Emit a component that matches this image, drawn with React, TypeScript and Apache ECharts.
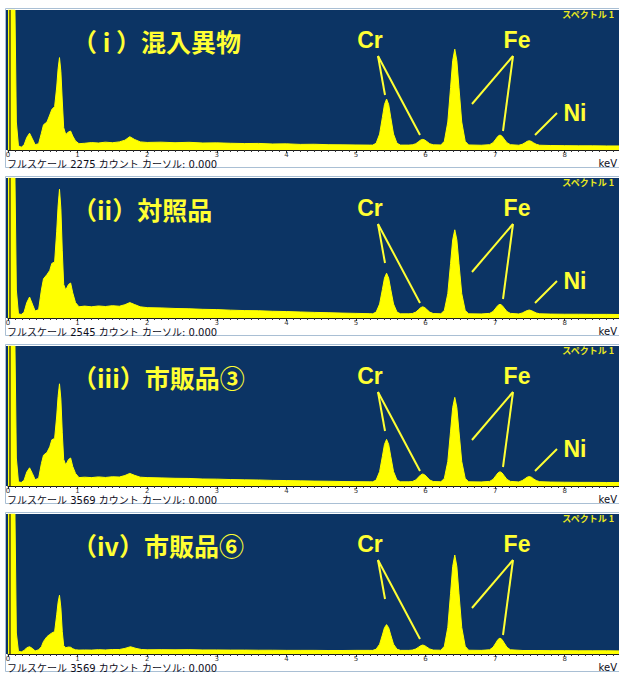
import React, { useEffect, useRef } from "react";
import * as echarts from "echarts";

// ---------- data ----------
const panelTitles = ["（ i ）混入異物", "（ii）対照品", "（iii）市販品③", "（iv）市販品⑥"];
const fullScaleCounts = [2275, 2545, 3569, 3569];
const spectrumLabel = "スペクトル 1";
const unitLabel = "keV";
const elementLabels = ["Cr", "Fe", "Ni"];
const showNi = [true, true, true, false];
const keVMax = 8.78;
const cursorKeV = 0.03;

// [keV, relative intensity (% of full-scale panel height)]
const spectrum1: [number, number][] = [
  [0, 100], [0.1, 100], [0.12, 20], [0.15, 3], [0.19, 2], [0.23, 3.5], [0.27, 9], [0.31, 12], [0.35, 8], [0.39, 3.8],
  [0.44, 4.5], [0.48, 12], [0.51, 18], [0.56, 20], [0.6, 25], [0.63, 29], [0.67, 31], [0.7, 45], [0.72, 58], [0.74, 66],
  [0.76, 56], [0.78, 35], [0.8, 16], [0.83, 11], [0.87, 13], [0.9, 13.5], [0.93, 10], [0.97, 6.5], [1.02, 4.5], [1.1, 4.8],
  [1.2, 5.3], [1.3, 5], [1.4, 5.6], [1.5, 5.2], [1.6, 5.8], [1.68, 7], [1.75, 9.5], [1.82, 7.5], [1.9, 5.8], [2.0, 5.4],
  [2.2, 5.6], [2.4, 5.2], [2.6, 5.5], [2.8, 5.0], [3.0, 5.1], [3.2, 4.8], [3.4, 4.6], [3.6, 4.7], [3.8, 4.3], [4.0, 4.4],
  [4.2, 4.0], [4.4, 4.1], [4.6, 3.8], [4.8, 3.7], [5.0, 3.6], [5.2, 3.5],
  [5.24, 3.5], [5.29, 4.8], [5.34, 11.4], [5.38, 23.3], [5.41, 32.5], [5.44, 36.4], [5.47, 32.5], [5.5, 23.3], [5.54, 11.4], [5.59, 4.8], [5.64, 3.5],
  [5.76, 3.5], [5.81, 3.7], [5.86, 4.5], [5.9, 6.0], [5.93, 7.1], [5.96, 7.6], [5.99, 7.1], [6.02, 6.0], [6.06, 4.5], [6.11, 3.7],
  [6.22, 3.6], [6.27, 6.2], [6.32, 20], [6.36, 44.6], [6.39, 63.8], [6.42, 72], [6.45, 63.8], [6.48, 44.6], [6.52, 20], [6.57, 6.2], [6.62, 3.6],
  [6.8, 3.4],
  [6.92, 3.8], [6.97, 5.2], [7.01, 7.8], [7.04, 9.8], [7.07, 10.7], [7.1, 9.8], [7.13, 7.8], [7.17, 5.2], [7.22, 3.8],
  [7.34, 3.4], [7.39, 4.1], [7.43, 5.2], [7.46, 6.2], [7.49, 6.6], [7.52, 6.2], [7.55, 5.2], [7.59, 4.1], [7.64, 3.4],
  [7.8, 3.2], [8.0, 3.1], [8.2, 3.0], [8.4, 3.0], [8.6, 2.9], [8.78, 2.9],
];

const spectrum2: [number, number][] = [
  [0, 100], [0.1, 100], [0.12, 20], [0.15, 3], [0.19, 2.5], [0.23, 4], [0.27, 11], [0.31, 15], [0.35, 10], [0.39, 5],
  [0.44, 6], [0.48, 20], [0.51, 28], [0.56, 31], [0.6, 34], [0.63, 39], [0.67, 40], [0.7, 62], [0.72, 80], [0.74, 92],
  [0.76, 78], [0.78, 48], [0.8, 24], [0.83, 20], [0.87, 24], [0.9, 25], [0.93, 18], [0.97, 11], [1.02, 8], [1.1, 8.5],
  [1.2, 8], [1.3, 8.6], [1.4, 8.2], [1.5, 8.8], [1.6, 8.4], [1.68, 9.5], [1.75, 11], [1.82, 9.6], [1.9, 8], [2.0, 7.4],
  [2.2, 7.2], [2.4, 6.8], [2.6, 6.6], [2.8, 6.2], [3.0, 6.0], [3.2, 5.6], [3.4, 5.3], [3.6, 5.2], [3.8, 4.8], [4.0, 4.6],
  [4.2, 4.3], [4.4, 4.0], [4.6, 3.8], [4.8, 3.5], [5.0, 3.3], [5.2, 3.1],
  [5.24, 3.0], [5.29, 4.2], [5.34, 10], [5.38, 20.4], [5.41, 28.5], [5.44, 32], [5.47, 28.5], [5.5, 20.4], [5.54, 10], [5.59, 4.2], [5.64, 3],
  [5.76, 3], [5.81, 3.2], [5.86, 4.2], [5.9, 6.0], [5.93, 7.4], [5.96, 8], [5.99, 7.4], [6.02, 6.0], [6.06, 4.2], [6.11, 3.2],
  [6.22, 3], [6.27, 5.4], [6.32, 17.4], [6.36, 39], [6.39, 55.8], [6.42, 63], [6.45, 55.8], [6.48, 39], [6.52, 17.4], [6.57, 5.4], [6.62, 3],
  [6.8, 2.9],
  [6.92, 3.3], [6.97, 4.6], [7.01, 7.1], [7.04, 9.0], [7.07, 9.8], [7.1, 9.0], [7.13, 7.1], [7.17, 4.6], [7.22, 3.3],
  [7.34, 2.9], [7.39, 3.6], [7.43, 4.6], [7.46, 5.3], [7.49, 5.7], [7.52, 5.3], [7.55, 4.6], [7.59, 3.6], [7.64, 3.0],
  [7.8, 2.8], [8.0, 2.7], [8.2, 2.7], [8.4, 2.6], [8.6, 2.6], [8.78, 2.5],
];

const spectrum3: [number, number][] = [
  [0, 100], [0.1, 100], [0.12, 20], [0.15, 3], [0.19, 2.5], [0.23, 4], [0.27, 10], [0.31, 13], [0.35, 9], [0.39, 4.5],
  [0.44, 5.5], [0.48, 16], [0.51, 22], [0.56, 24], [0.6, 28], [0.63, 33], [0.67, 34], [0.7, 50], [0.72, 64], [0.74, 73],
  [0.76, 62], [0.78, 38], [0.8, 19], [0.83, 15], [0.87, 19], [0.9, 20], [0.93, 14], [0.97, 9], [1.02, 6], [1.1, 6.3],
  [1.2, 6], [1.3, 6.5], [1.4, 6.1], [1.5, 6.6], [1.6, 6.4], [1.68, 7.5], [1.75, 9], [1.82, 7.6], [1.9, 6.3], [2.0, 6],
  [2.2, 5.8], [2.4, 5.5], [2.6, 5.4], [2.8, 5.0], [3.0, 4.9], [3.2, 4.6], [3.4, 4.4], [3.6, 4.3], [3.8, 4.0], [4.0, 3.9],
  [4.2, 3.7], [4.4, 3.5], [4.6, 3.4], [4.8, 3.2], [5.0, 3.1], [5.2, 3.0],
  [5.24, 3.0], [5.29, 4.2], [5.34, 10.3], [5.38, 21.2], [5.41, 29.7], [5.44, 33.3], [5.47, 29.7], [5.5, 21.2], [5.54, 10.3], [5.59, 4.2], [5.64, 3],
  [5.76, 3], [5.81, 3.2], [5.86, 4.3], [5.9, 6.4], [5.93, 7.9], [5.96, 8.6], [5.99, 7.9], [6.02, 6.4], [6.06, 4.3], [6.11, 3.2],
  [6.22, 3], [6.27, 5.4], [6.32, 17.5], [6.36, 39.2], [6.39, 56], [6.42, 63.3], [6.45, 56], [6.48, 39.2], [6.52, 17.5], [6.57, 5.4], [6.62, 3],
  [6.8, 2.9],
  [6.92, 3.3], [6.97, 4.7], [7.01, 7.3], [7.04, 9.3], [7.07, 10.2], [7.1, 9.3], [7.13, 7.3], [7.17, 4.7], [7.22, 3.3],
  [7.34, 2.9], [7.39, 3.9], [7.43, 5.2], [7.46, 6.3], [7.49, 6.7], [7.52, 6.3], [7.55, 5.2], [7.59, 3.9], [7.64, 3.1],
  [7.8, 2.8], [8.0, 2.7], [8.2, 2.6], [8.4, 2.6], [8.6, 2.5], [8.78, 2.5],
];

const spectrum4: [number, number][] = [
  [0, 100], [0.1, 100], [0.12, 15], [0.15, 2], [0.19, 1.5], [0.23, 2.5], [0.27, 4.5], [0.31, 5.2], [0.35, 4], [0.39, 2.2],
  [0.44, 3], [0.48, 5.2], [0.51, 9], [0.56, 12.4], [0.6, 14], [0.63, 15], [0.67, 16], [0.7, 28], [0.72, 37], [0.74, 42],
  [0.76, 33], [0.78, 16], [0.8, 6], [0.83, 4.5], [0.87, 5], [0.9, 4.8], [0.93, 3.8], [0.97, 3], [1.02, 2.8], [1.1, 2.9],
  [1.2, 2.8], [1.3, 3.1], [1.4, 2.9], [1.5, 3.2], [1.6, 3.2], [1.68, 4], [1.76, 5.2], [1.84, 4], [1.92, 3.2], [2.0, 3.0],
  [2.2, 3.1], [2.4, 3.0], [2.6, 3.1], [2.8, 2.9], [3.0, 2.9], [3.2, 2.8], [3.4, 2.8], [3.6, 2.7], [3.8, 2.7], [4.0, 2.6],
  [4.2, 2.6], [4.4, 2.6], [4.6, 2.5], [4.8, 2.5], [5.0, 2.6], [5.2, 2.6],
  [5.24, 2.6], [5.29, 3.4], [5.34, 7], [5.38, 13.6], [5.41, 18.8], [5.44, 21], [5.47, 18.8], [5.5, 13.6], [5.54, 7], [5.59, 3.4], [5.64, 2.6],
  [5.76, 2.6], [5.81, 2.8], [5.86, 3.6], [5.9, 4.9], [5.93, 5.9], [5.96, 6.4], [5.99, 5.9], [6.02, 4.9], [6.06, 3.6], [6.11, 2.8],
  [6.22, 2.7], [6.27, 5.5], [6.32, 19], [6.36, 43.4], [6.39, 62.5], [6.42, 70.7], [6.45, 62.5], [6.48, 43.4], [6.52, 19], [6.57, 5.5], [6.62, 2.7],
  [6.8, 2.6],
  [6.92, 3], [6.97, 4.8], [7.01, 7.9], [7.04, 10.3], [7.07, 11.4], [7.1, 10.3], [7.13, 7.9], [7.17, 4.8], [7.22, 3],
  [7.4, 2.5], [7.6, 2.5], [7.8, 2.4], [8.0, 2.4], [8.2, 2.3], [8.4, 2.3], [8.6, 2.3], [8.78, 2.2],
];

const spectra = [spectrum1, spectrum2, spectrum3, spectrum4];

// ---------- styling / layout ----------
const PANEL_TOPS = [10, 178, 346, 514];
const PLOT_H = 140;
const BLUE = "#0c3464";
const YELLOW = "#ffff00";
const TEXT_YELLOW = "#ffff33";

function txt(text: string, x: number, y: number, font: string, fill: string, align = "left", extra: any = {}) {
  return {
    type: "text",
    z: 100,
    style: {
      text, x, y, font, fill,
      textAlign: align, align,
      textVerticalAlign: "middle", verticalAlign: "middle",
      ...extra,
    },
  };
}

function ln(x1: number, y1: number, x2: number, y2: number) {
  return {
    type: "line",
    z: 100,
    shape: { x1, y1, x2, y2 },
    style: { stroke: TEXT_YELLOW, lineWidth: 2 },
  };
}

export default function App() {
  const ref = useRef<HTMLDivElement>(null);

  useEffect(() => {
    if (!ref.current) return;
    const chart = echarts.init(ref.current, null, { renderer: "svg" });
    const grids: any[] = [];
    const xAxes: any[] = [];
    const yAxes: any[] = [];
    const series: any[] = [];
    const graphics: any[] = [];

    spectra.forEach((data, i) => {
      const t = PANEL_TOPS[i];
      grids.push({ left: 8, right: 0, top: t, height: PLOT_H });
      xAxes.push({
        type: "value",
        gridIndex: i,
        min: 0,
        max: keVMax,
        interval: 1,
        axisLine: { show: true, lineStyle: { color: "#1c1c1c", width: 1 } },
        axisTick: { show: true, length: 3, lineStyle: { color: "#222" } },
        minorTick: { show: true, splitNumber: 10, length: 2, lineStyle: { color: "#333" } },
        splitLine: { show: false },
        axisLabel: {
          fontSize: 7,
          color: "#333",
          margin: 1,
          showMaxLabel: false,
          fontFamily: "DejaVu Sans",
          formatter: (v: number) => String(Math.round(v)),
        },
      });
      yAxes.push({ type: "value", gridIndex: i, min: 0, max: 100, show: false });
      series.push({
        type: "line",
        xAxisIndex: i,
        yAxisIndex: i,
        data,
        showSymbol: false,
        symbol: "none",
        smooth: false,
        lineStyle: { color: YELLOW, width: 1 },
        areaStyle: { color: YELLOW, opacity: 1 },
        z: 3,
        markLine: {
          silent: true,
          symbol: ["none", "none"],
          label: { show: false },
          lineStyle: { color: "#4a4a10", width: 1.5, type: "solid" },
          data: [{ xAxis: cursorKeV }],
        },
      });

      // panel frame + plot background
      graphics.push({
        type: "rect", z: -10,
        shape: { x: 5.5, y: t - 1.5, width: 620, height: 159 },
        style: { fill: "#ffffff", stroke: "#a9bfd4", lineWidth: 1 },
      });
      graphics.push({
        type: "rect", z: -9,
        shape: { x: 6, y: t, width: 613, height: PLOT_H },
        style: { fill: BLUE },
      });

      // titles and labels
      graphics.push(txt(panelTitles[i], 72, t + 31, 'bold 25px "Noto Sans CJK JP"', TEXT_YELLOW));
      graphics.push(txt(spectrumLabel, 614, t + 4, 'bold 9px "Noto Sans CJK JP"', "#e8e820", "right"));
      graphics.push(txt(`フルスケール ${fullScaleCounts[i]} カウント カーソル: 0.000`, 7, t + 154.5,
        '10px "DejaVu Sans", "Noto Sans CJK JP"', "#0d0d1a"));
      graphics.push(txt(unitLabel, 617, t + 153.5, '10px "DejaVu Sans"', "#0d0d1a", "right"));

      graphics.push(txt(elementLabels[0], 370, t + 30, 'bold 23px "Liberation Sans"', TEXT_YELLOW, "center"));
      graphics.push(txt(elementLabels[1], 517, t + 30, 'bold 23px "Liberation Sans"', TEXT_YELLOW, "center"));
      graphics.push(ln(378, t + 46, 385, t + 85));
      graphics.push(ln(378, t + 46, 420, t + 125));
      graphics.push(ln(513, t + 46, 472, t + 94));
      graphics.push(ln(513, t + 46, 503, t + 121));
      if (showNi[i]) {
        graphics.push(txt(elementLabels[2], 575, t + 103, 'bold 23px "Liberation Sans"', TEXT_YELLOW, "center"));
        graphics.push(ln(557, t + 103, 535, t + 125));
      }
    });

    chart.setOption({
      animation: false,
      grid: grids,
      xAxis: xAxes,
      yAxis: yAxes,
      series,
      graphic: graphics,
    });

    return () => chart.dispose();
  }, []);

  return (
    <div
      ref={ref}
      style={{ position: "absolute", left: 0, top: 0, width: 619, height: 673, background: "#ffffff" }}
    />
  );
}
